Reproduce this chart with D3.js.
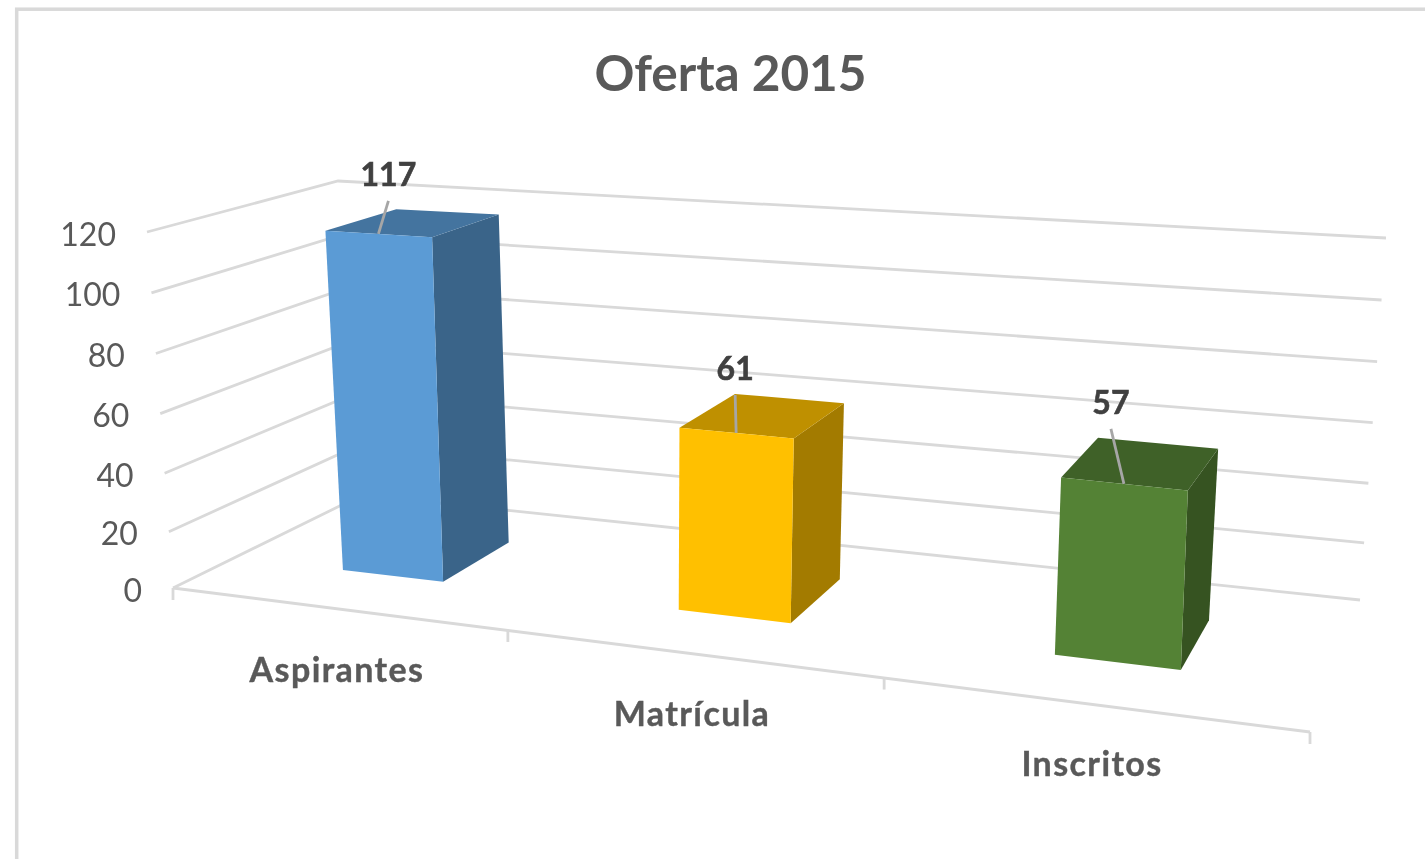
<!DOCTYPE html>
<html><head><meta charset="utf-8">
<script src="https://cdnjs.cloudflare.com/ajax/libs/d3/7.8.5/d3.min.js"></script>
<style>html,body{margin:0;padding:0;background:#fff}svg{display:block;filter:blur(.55px)}text{font-family:Lato,"Open Sans",sans-serif}</style>
</head><body><svg id="c" width="1425" height="859"></svg>
<script>
const categories=["Aspirantes","Matrícula","Inscritos"];
const values=[117,61,57];
const yTicks=[0,20,40,60,80,100,120];
const faceColors=["#5B9BD5","#FFC000","#548235"];
const topColors=["#44749F","#BF9000","#3F6128"];
const sideColors=["#3A6489","#A37B00","#365321"];
const leaderOffset=[[10,-33],[-1,-38],[-13,-55]];
const catLabelPos=[[337,682],[692,726],[1092,776]];

const svg=d3.select("#c");
svg.append("rect").attr("x",16.7).attr("y",9.2).attr("width",1500).attr("height",900).attr("fill","#fff").attr("stroke","#D9D9D9").attr("stroke-width",3.5);

// floor and ceiling quads of the 3D box: front-left, front-right, back-right, back-left
const floorQ=[[173,588],[1310,732],[1360,600],[362,495]];
const topQ=[[147,232],[1332,327],[1386,238],[338,181]];
// horizontal foreshortening of the original differs slightly from the vertical one
const floorQX=[[173,588],[1310,732],[1360,600],[362,493.5]];
const topQX=[[147,232],[1321,305],[1386,238],[338,181]];
function homography(q){
  const [p0,p1,p2,p3]=q;
  const dx1=p1[0]-p2[0],dx2=p3[0]-p2[0],sx=p0[0]-p1[0]+p2[0]-p3[0];
  const dy1=p1[1]-p2[1],dy2=p3[1]-p2[1],sy=p0[1]-p1[1]+p2[1]-p3[1];
  const den=dx1*dy2-dx2*dy1;
  const g=(sx*dy2-dx2*sy)/den,h=(dx1*sy-sx*dy1)/den;
  const a=p1[0]-p0[0]+g*p1[0],b=p3[0]-p0[0]+h*p3[0],c=p0[0];
  const d=p1[1]-p0[1]+g*p1[1],e=p3[1]-p0[1]+h*p3[1],f=p0[1];
  return (u,w)=>{const D=g*u+h*w+1;return [(a*u+b*w+c)/D,(d*u+e*w+f)/D];};
}
const hFloor=homography(floorQ),hTop=homography(topQ),hFloorX=homography(floorQX),hTopX=homography(topQX);
const vScale=d3.scalePow().exponent(1.03).domain([0,120]).range([0,1]);
const uScale=d3.scaleBand().domain(categories).range([0,1]).paddingInner(0.69).paddingOuter(0.345);
const wFront=0.30,wBack=0.695;
function P(u,w,v){
  const t=vScale(v);
  const ax=hFloorX(u,w)[0],bx=hTopX(u,w)[0],ay=hFloor(u,w)[1],by=hTop(u,w)[1];
  return [ax+(bx-ax)*t,ay+(by-ay)*t];
}
const line=d3.line();

// gridlines
const gridCol="#D9D9D9";
yTicks.forEach(v=>{
  svg.append("path").attr("d",line([P(0,0,v),P(0,1,v),P(1,1,v)])).attr("fill","none").attr("stroke",gridCol).attr("stroke-width",2.8);
});
// floor axis
svg.append("path").attr("d",line([P(0,0,0),P(1,0,0)])).attr("fill","none").attr("stroke",gridCol).attr("stroke-width",3);
[0,1,2,3].forEach(i=>{const a=P(i/3,0,0);
  svg.append("line").attr("x1",a[0]).attr("y1",a[1]).attr("x2",a[0]).attr("y2",a[1]+12).attr("stroke",gridCol).attr("stroke-width",2.8);});

// bars
categories.forEach((c,i)=>{
  const u0=uScale(c),u1=u0+uScale.bandwidth(),v=values[i];
  const face=(pts,col)=>svg.append("path").attr("d",line(pts)+"Z").attr("fill",col);
  face([P(u1,wFront,0),P(u1,wBack,0),P(u1,wBack,v),P(u1,wFront,v)],sideColors[i]);
  face([P(u0,wFront,v),P(u1,wFront,v),P(u1,wBack,v),P(u0,wBack,v)],topColors[i]);
  face([P(u0,wFront,0),P(u1,wFront,0),P(u1,wFront,v),P(u0,wFront,v)],faceColors[i]);
  const base=P((u0+u1)/2,wFront,v);
  const tip=[base[0]+leaderOffset[i][0],base[1]+leaderOffset[i][1]];
  svg.append("line").attr("x1",base[0]).attr("y1",base[1]).attr("x2",tip[0]).attr("y2",tip[1]).attr("stroke","#A6A6A6").attr("stroke-width",2.8);
  svg.append("text").attr("x",tip[0]).attr("y",tip[1]-15).attr("text-anchor","middle").attr("font-size",32).attr("font-weight",700).attr("fill","#404040").attr("stroke","#404040").attr("stroke-width",0.6).text(v);
});

// y tick labels
yTicks.forEach(v=>{const a=P(0,0,v);
  svg.append("text").attr("x",a[0]-31).attr("y",a[1]+13.5).attr("text-anchor","end").attr("font-size",32).attr("fill","#595959").text(v);
});
// category labels
categories.forEach((c,i)=>{
  svg.append("text").attr("x",catLabelPos[i][0]).attr("y",catLabelPos[i][1]).attr("text-anchor","middle").attr("font-size",34).attr("letter-spacing",1.4).attr("font-weight",700).attr("fill","#595959").attr("stroke","#595959").attr("stroke-width",0.4).text(c);
});
svg.append("text").attr("x",730.5).attr("y",91).attr("text-anchor","middle").attr("font-size",49.5).attr("font-weight",700).attr("fill","#595959").text("Oferta 2015");
</script></body></html>
